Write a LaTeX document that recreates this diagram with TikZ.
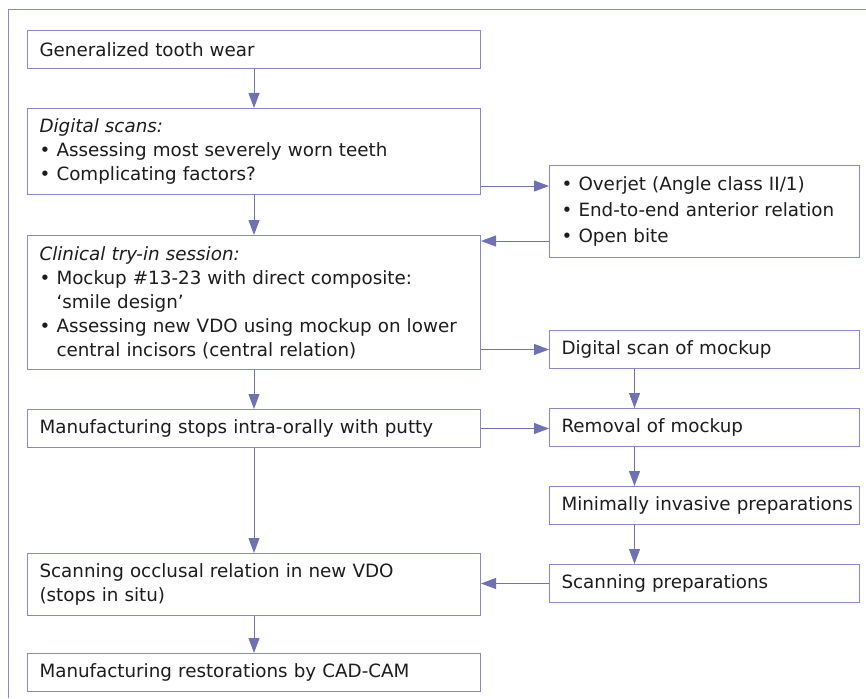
\documentclass[tikz,border=0pt]{standalone}
\usepackage{fontspec}
\setmainfont{DejaVu Sans}
\usetikzlibrary{positioning,arrows.meta}
\definecolor{boxline}{RGB}{136,136,204}
\definecolor{arrowcol}{RGB}{112,112,180}
\definecolor{txt}{RGB}{30,28,30}
\newcommand{\bul}{\makebox[17pt][l]{\textbullet}}
\newcommand{\hang}{\hspace*{17pt}}

\begin{document}
\begin{tikzpicture}[x=1pt, y=1pt, node distance=39pt, font=\fontsize{18.3}{24}\selectfont, text=txt]
\tikzstyle{leftbox} = [rectangle, draw=boxline, line width=1pt, fill=white, inner xsep=6pt, inner ysep=0pt, text width=441pt, align=left, minimum width=453pt, execute at begin node={\leftskip=6pt}]
\tikzstyle{rightbox} = [rectangle, draw=boxline, line width=1pt, fill=white, inner xsep=6pt, inner ysep=0pt, text width=298pt, align=left, minimum width=310pt, minimum height=38pt, execute at begin node={\leftskip=6pt}]
\tikzstyle{arrow} = [draw=arrowcol, line width=1pt, -{Triangle[length=15pt, width=11pt]}, fill=arrowcol]
\tikzstyle{frame} = [draw=boxline, line width=1pt]

\useasboundingbox (0,0) rectangle (866,-698);
\draw [frame] (8,-698) -- (8,-10) -- (866,-10);

\node [leftbox, minimum height=38pt, anchor=north west] (tooth) at (27,-30) {Generalized tooth wear};
\node [leftbox, minimum height=86pt, below=39pt of tooth] (scans) {\textit{Digital scans:}\\
\bul Assessing most severely worn teeth\\
\bul Complicating factors?};
\node [leftbox, minimum height=134pt, below=40pt of scans] (tryin) {\textit{Clinical try-in session:}\\
\bul Mockup \#13-23 with direct composite:\\
\hang ‘smile design’\\
\bul Assessing new VDO using mockup on lower\\
\hang central incisors (central relation)};
\node [leftbox, minimum height=38pt, below=39pt of tryin] (stops) {Manufacturing stops intra-orally with putty};
\node [leftbox, minimum height=62pt, below=105pt of stops] (occlusal) {Scanning occlusal relation in new VDO\\
(stops in situ)};
\node [leftbox, minimum height=38pt, below=37pt of occlusal] (cadcam) {Manufacturing restorations by CAD-CAM};

\node [rightbox, minimum height=92pt, anchor=north west, font=\fontsize{18.3}{25.8}\selectfont] (overjet) at (549,-165) {\bul Overjet (Angle class II/1)\\
\bul End-to-end anterior relation\\
\bul Open bite};
\node [rightbox, below=72pt of overjet] (scanmock) {Digital scan of mockup};
\node [rightbox, below=39pt of scanmock] (removal) {Removal of mockup};
\node [rightbox, below=39pt of removal] (prep) {Minimally invasive preparations};
\node [rightbox, below=39pt of prep] (scanprep) {Scanning preparations};

\draw [arrow] (tooth) -- (scans);
\draw [arrow] (scans) -- (tryin);
\draw [arrow] (tryin) -- (stops);
\draw [arrow] (stops) -- (occlusal);
\draw [arrow] (occlusal) -- (cadcam);

\draw [arrow] ([yshift=9pt]scans.south east) -- ([yshift=9pt]scans.south east -| overjet.west);
\draw [arrow] ([yshift=-6pt]tryin.north east -| overjet.west) -- ([yshift=-6pt]tryin.north east);
\draw [arrow] (scanmock.west -| tryin.east) -- (scanmock.west);
\draw [arrow] (stops.east) -- (stops.east -| removal.west);
\draw [arrow] (scanprep.west) -- (scanprep.west -| occlusal.east);

\draw [arrow] ([xshift=-70pt]scanmock.south) -- ([xshift=-70pt]removal.north);
\draw [arrow] ([xshift=-70pt]removal.south) -- ([xshift=-70pt]prep.north);
\draw [arrow] ([xshift=-70pt]prep.south) -- ([xshift=-70pt]scanprep.north);
\end{tikzpicture}
\end{document}
